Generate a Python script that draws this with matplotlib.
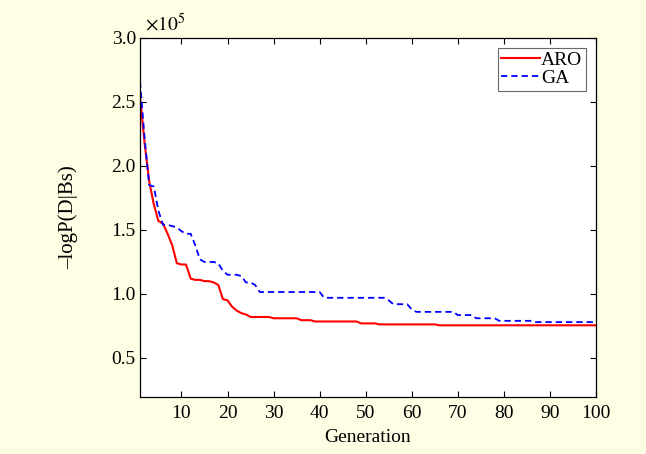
import matplotlib
matplotlib.use("Agg")
import matplotlib.pyplot as plt
import numpy as np

generations = list(range(1, 101))

aro = ([2.54, 2.18, 1.88, 1.70, 1.57, 1.55, 1.47, 1.38, 1.24, 1.23,
        1.23, 1.12, 1.11, 1.11, 1.10, 1.10, 1.09, 1.07, 0.96, 0.95,
        0.90, 0.87, 0.85, 0.84, 0.82]
       + [0.82] * 4 + [0.81] * 6 + [0.795] * 3 + [0.785] * 10
       + [0.77] * 4 + [0.762] * 13 + [0.755] * 35)

ga = ([2.66, 2.22, 1.85, 1.84, 1.65, 1.54, 1.54, 1.53, 1.52, 1.49,
       1.47, 1.47, 1.38, 1.27, 1.25, 1.25, 1.25, 1.24, 1.18, 1.15,
       1.15, 1.15, 1.14, 1.09, 1.09, 1.07]
      + [1.015] * 14 + [0.97] * 14 + [0.95] + [0.92] * 4 + [0.88]
      + [0.86] * 9 + [0.835] * 4 + [0.81] * 5 + [0.79] * 8 + [0.78] * 14)

xticks = [10, 20, 30, 40, 50, 60, 70, 80, 90, 100]
yticks = [0.5, 1.0, 1.5, 2.0, 2.5, 3.0]
ytick_labels = ["0.5", "1.0", "1.5", "2.0", "2.5", "3.0"]

plt.rcParams['font.family'] = ['Liberation Serif', 'DejaVu Serif']
plt.rcParams['mathtext.fontset'] = 'stix'

FS = 14

fig = plt.figure(figsize=(6.46, 4.54), dpi=100, facecolor='#FEFEE4')
ax = fig.add_axes([0.2167, 0.1256, 0.7059, 0.7907])
ax.set_facecolor('white')

ax.plot(generations, aro, color='#FF0000', lw=1.5, label='ARO')
ax.plot(generations, ga, color='#0000FF', lw=1.3, ls=(0, (3.5, 2.2)), label='GA')

ax.set_xlim(1, 100)
ax.set_ylim(0.195, 3.0)
ax.set_xticks(xticks)
ax.set_yticks(yticks)
ax.set_yticklabels(ytick_labels)
ax.tick_params(direction='in', top=True, right=True, labelsize=FS, length=4, width=0.8)
ax.tick_params(axis='x', pad=6)
ax.tick_params(axis='y', pad=3)
for s in ax.spines.values():
    s.set_linewidth(0.9)

ax.set_xlabel('Generation', fontsize=FS, labelpad=5)
ax.set_ylabel('\u2013logP(D|Bs)', fontsize=FS + 1, labelpad=24)
ax.text(0.01, 1.008, r'$\times10^{5}$', transform=ax.transAxes, fontsize=FS,
        va='bottom', ha='left')

leg = ax.legend(loc='upper right', fontsize=FS, frameon=True, fancybox=False,
                edgecolor='#444444', handlelength=2.0, handletextpad=0.05,
                borderpad=0.2, labelspacing=0.0, borderaxespad=0.5)
leg.get_frame().set_linewidth(0.8)

fig.savefig('out.png', dpi=100, facecolor=fig.get_facecolor())
